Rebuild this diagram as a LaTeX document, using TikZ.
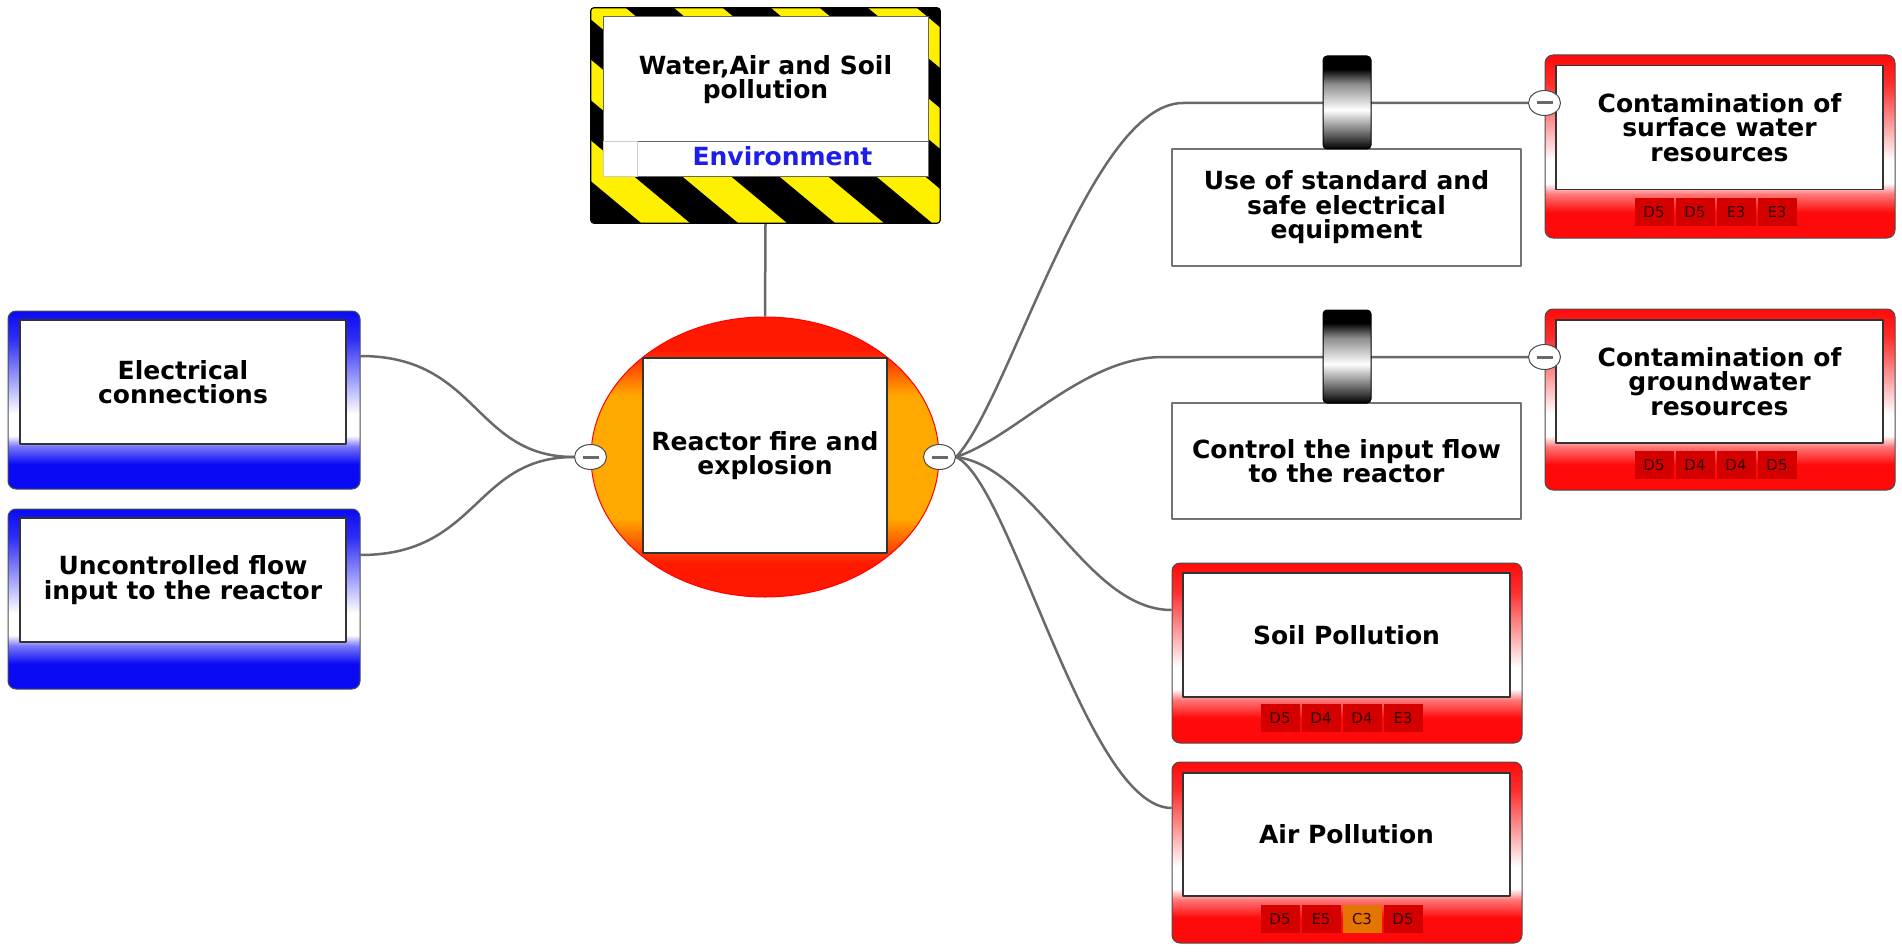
\documentclass[tikz,border=0pt]{standalone}
\usepackage{fontspec}
\setmainfont{DejaVu Sans}
\usetikzlibrary{shapes.geometric,positioning,backgrounds}

\definecolor{linkgray}{RGB}{105,105,105}
\definecolor{hazyellow}{RGB}{255,240,0}
\definecolor{threatblue}{RGB}{10,10,245}
\definecolor{conred}{RGB}{255,10,10}
\definecolor{tagred}{RGB}{212,0,0}
\definecolor{tagorange}{RGB}{228,118,0}
\definecolor{envblue}{RGB}{30,30,235}
\definecolor{fireorange}{RGB}{255,168,0}
\definecolor{firered}{RGB}{255,25,0}

\pgfdeclareverticalshading{threatshade}{100bp}{color(0bp)=(threatblue); color(25bp)=(threatblue); color(32bp)=(threatblue); color(37bp)=(threatblue!55); color(40bp)=(white); color(46bp)=(white); color(67bp)=(threatblue!85); color(75bp)=(threatblue); color(100bp)=(threatblue)}
\pgfdeclareverticalshading{conshade}{100bp}{color(0bp)=(conred); color(25bp)=(conred); color(32bp)=(conred); color(37bp)=(conred!55); color(40bp)=(white); color(46bp)=(white); color(67bp)=(conred!85); color(75bp)=(conred); color(100bp)=(conred)}
\pgfdeclareverticalshading{fireshade}{100bp}{color(0bp)=(firered); color(25bp)=(firered); color(31bp)=(firered); color(39bp)=(fireorange); color(61bp)=(fireorange); color(69bp)=(firered); color(75bp)=(firered); color(100bp)=(firered)}
\pgfdeclareverticalshading{barrelshade}{100bp}{color(0bp)=(black); color(25bp)=(black); color(30bp)=(black!75); color(46bp)=(white); color(60bp)=(black!45); color(68bp)=(black); color(75bp)=(black); color(100bp)=(black)}

\tikzset{
  txt/.style={font=\fontsize{25}{24.5}\selectfont\bfseries,align=center,text=black},
  boxframe/.style={draw=black!70,line width=1pt,rounded corners=8pt,inner sep=0pt,shade},
  threat/.style={boxframe,shading=threatshade,minimum width=352pt,minimum height=178pt},
  conseq/.style={boxframe,shading=conshade,minimum width=350pt,minimum height=181pt},
  inbox/.style={txt,draw=black!80,line width=1.5pt,fill=white,inner sep=0pt,minimum width=327pt,minimum height=124pt},
  barrier/.style={txt,draw=black!55,line width=1.5pt,fill=white,inner sep=0pt,minimum width=349pt,minimum height=117pt},
  barrel/.style={draw=black,line width=1pt,rounded corners=4pt,shade,shading=barrelshade,inner sep=0pt,minimum width=48pt,minimum height=93pt},
  tagbox/.style={fill=tagred,inner sep=0pt,minimum width=39pt,minimum height=28pt,font=\fontsize{15}{15}\selectfont,text=black!80!red},
  knob/.style={ellipse,draw=black!70,line width=1pt,fill=white,inner sep=0pt,minimum width=32pt,minimum height=25pt,
    path picture={\draw[linkgray,line width=3pt] ([xshift=-8pt]path picture bounding box.center) -- ([xshift=8pt]path picture bounding box.center);}},
  link/.style={draw=linkgray,line width=2.5pt}
}

\begin{document}
\begin{tikzpicture}[x=1pt,y=-1pt,line join=round]
\useasboundingbox (0,0) rectangle (1902,952);

% Hazard: Water,Air and Soil pollution
\node[minimum width=349pt,minimum height=215pt,inner sep=0pt] (hazard) at (765.5,115.5) {};
\fill[hazyellow,rounded corners=3pt] (hazard.north west) rectangle (hazard.south east);
\begin{scope}
  \clip[rounded corners=3pt] (hazard.north west) rectangle (hazard.south east);
  \foreach \k in {-3,...,5}
    \fill[black] ({432+97*\k},8) -- ++(48,0) -- ++(258,215) -- ++(-48,0) -- cycle;
\end{scope}
\draw[black,line width=1.2pt,rounded corners=3pt] (hazard.north west) rectangle (hazard.south east);
\node[txt,draw=black!60,line width=1pt,fill=white,inner sep=0pt,minimum width=325pt,minimum height=125pt] (hztxt) at (765.5,79.5) {Water,Air and Soil\\pollution};
\node[draw=black!60,line width=1pt,fill=white,inner sep=0pt,minimum width=325pt,minimum height=35pt] (env) at (765.5,159.5) {};
\node[draw=black!20,line width=1pt,fill=white,inner sep=0pt,minimum width=34pt,minimum height=35pt] (envsq) at (620,159.5) {};
\node[txt,text=envblue] (envtxt) at (782.5,156) {Environment};

% Top event: Reactor fire and explosion
\node[ellipse,draw=red,line width=1pt,shade,shading=fireshade,minimum width=348pt,minimum height=280pt] (top) at (765,457) {};
\node[txt,draw=black!80,line width=1.5pt,fill=white,inner sep=0pt,minimum width=244pt,minimum height=195pt] (topbox) at (765,455.5) {Reactor fire and\\explosion};

% Threats
\node[threat] (thr1) at (184,400) {};
\node[inbox,minimum width=326pt] (thr1in) at (183,382) {Electrical\\connections};
\node[threat,minimum height=180pt] (thr2) at (184,599) {};
\node[inbox,minimum width=326pt] (thr2in) at (183,580) {Uncontrolled flow\\input to the reactor};

% Barriers
\node[barrier] (bar1) at (1346.5,207.5) {Use of standard and\\safe electrical\\equipment};
\node[barrier,minimum height=116pt] (bar2) at (1346.5,461) {Control the input flow\\to the reactor};

% Consequences
\node[conseq,minimum height=183pt] (con1) at (1720,146.5) {};
\node[inbox] (con1in) at (1719.5,127.5) {Contamination of\\surface water\\resources};
\node[conseq] (con2) at (1720,399.5) {};
\node[inbox,minimum height=123pt] (con2in) at (1719.5,381.5) {Contamination of\\groundwater\\resources};
\node[conseq,minimum height=180pt] (con3) at (1347,653) {};
\node[inbox] (con3in) at (1346.5,635) {Soil Pollution};
\node[conseq] (con4) at (1347,852.5) {};
\node[inbox,minimum height=123pt] (con4in) at (1346.5,834.5) {Air Pollution};

% Risk tags
\foreach \lbl [count=\i] in {D5,D5,E3,E3}
  \node[tagbox] (con1t\i) at ({1654+41*(\i-1)},212) {\lbl};
\foreach \lbl [count=\i] in {D5,D4,D4,D5}
  \node[tagbox] (con2t\i) at ({1654+41*(\i-1)},465) {\lbl};
\foreach \lbl [count=\i] in {D5,D4,D4,E3}
  \node[tagbox] (con3t\i) at ({1280+41*(\i-1)},718) {\lbl};
\foreach \lbl/\col [count=\i] in {D5/tagred,E5/tagred,C3/tagorange,D5/tagred}
  \node[tagbox,fill=\col] (con4t\i) at ({1280+41*(\i-1)},919) {\lbl};

% Collapse knobs
\node[knob] (ml) at (top.west) {};
\node[knob] (mr) at (top.east) {};
\node[knob] (m1) at ([yshift=43.5pt]con1.west) {};
\node[knob] (m2) at ([yshift=42.5pt]con2.west) {};

% Barrier blocks
\node[barrel] (blk1) at (1347,102.5) {};
\node[barrel] (blk2) at (1347,356.5) {};

\coordinate (j1) at (1183,103);
\coordinate (j2) at (1163,357);

\begin{pgfonlayer}{background}
% Edge: hazard -> top
\draw[link] (hazard.south) -- (top.north);
% Edge: thr1 -> top
\draw[link] ([yshift=44pt]thr1.east) .. controls +(118,0) and +(-100,0) .. (ml.west);
% Edge: thr2 -> top
\draw[link] ([yshift=44pt]thr2.east) .. controls +(118,0) and +(-100,0) .. (ml.west);
% Edge: top -> con1
\draw[link] (mr.east) .. controls +(53,-55) and +(-93,0) .. (j1) -- (m1.west);
% Edge: top -> con2
\draw[link] (mr.east) .. controls +(60,-20) and +(-80,0) .. (j2) -- (m2.west);
% Edge: top -> con3
\draw[link] (mr.east) .. controls +(80,10) and +(-85,0) .. ([yshift=43pt]con3.west);
% Edge: top -> con4
\draw[link] (mr.east) .. controls +(55,25) and +(-85,0) .. ([yshift=44.5pt]con4.west);
\end{pgfonlayer}

\end{tikzpicture}
\end{document}
